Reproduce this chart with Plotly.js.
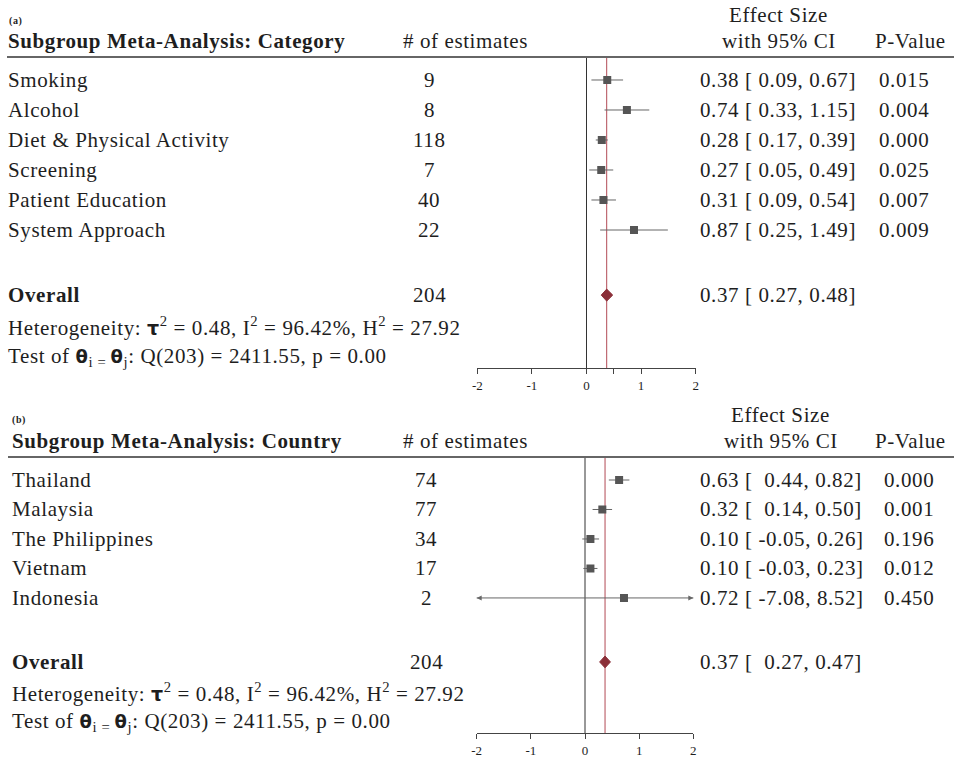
<!DOCTYPE html>
<html>
<head>
<meta charset="utf-8">
<script src="https://cdn.plot.ly/plotly-3.0.1.min.js"></script>
<style>
html,body{margin:0;padding:0;background:#fff;}
#chart{width:954px;height:758px;}
.annotation-text{letter-spacing:0.6px;}
</style>
</head>
<body>
<div id="chart"></div>
<script>
// ---------- Data: panel (a) Category ----------
const catLabels = ["Smoking", "Alcohol", "Diet & Physical Activity", "Screening", "Patient Education", "System Approach"];
const catN = [9, 8, 118, 7, 40, 22];
const catES = [0.38, 0.74, 0.28, 0.27, 0.31, 0.87];
const catLo = [0.09, 0.33, 0.17, 0.05, 0.09, 0.25];
const catHi = [0.67, 1.15, 0.39, 0.49, 0.54, 1.49];
const catP = ["0.015", "0.004", "0.000", "0.025", "0.007", "0.009"];
const catOverallN = 204;
const catOverallES = 0.37;
const catOverallLo = 0.27;
const catOverallHi = 0.48;

// ---------- Data: panel (b) Country ----------
const ctyLabels = ["Thailand", "Malaysia", "The Philippines", "Vietnam", "Indonesia"];
const ctyN = [74, 77, 34, 17, 2];
const ctyES = [0.63, 0.32, 0.10, 0.10, 0.72];
const ctyLo = [0.44, 0.14, -0.05, -0.03, -7.08];
const ctyHi = [0.82, 0.50, 0.26, 0.23, 8.52];
const ctyP = ["0.000", "0.001", "0.196", "0.012", "0.450"];
const ctyOverallN = 204;
const ctyOverallES = 0.37;
const ctyOverallLo = 0.27;
const ctyOverallHi = 0.47;

const hetText = "Heterogeneity: <span style='font-family:DejaVu Sans;font-size:19px'><b>τ</b></span><sup>2</sup> = 0.48, I<sup>2</sup> = 96.42%, H<sup>2</sup> = 27.92";
const testText = "Test of <span style='font-family:DejaVu Sans;font-size:18px'><b>θ</b></span><sub>i = </sub><span style='font-family:DejaVu Sans;font-size:18px'><b>θ</b></span><sub>j</sub>: Q(203) = 2411.55, p = 0.00";

const xTickValsA = [-2, -1, 0, 0.5, 1, 2];
const xTickTextA = ["-2", "-1", "0", " ", "1", "2"];
const xTickValsB = [-2, -1, 0, 1, 2];
const xTickTextB = ["-2", "-1", "0", "1", "2"];

// ---------- Layout constants ----------
const W = 954, H = 758;
const FONT = "Liberation Serif";
const TXT = "#1e1e1e";
const FS = 21;
const XMIN = -2, XMAX = 2;
const px = v => v / W;
const py = v => 1 - v / H;

function fmt(v) { return v.toFixed(2); }
function padTo(s, n) { while (s.length < n) s = "\u00a0" + s; return s; }

function buildPanel(p) {
  const traces = [];
  const ann = [];
  const shapes = [];
  const n = p.labels.length;
  const rows = p.labels.map((_, i) => i);
  const rowOverall = n + 1.17;
  const rowHet = n + 2.2;
  const rowTest = n + 3.22;

  // CI lines + squares
  traces.push({
    type: "scatter", mode: "markers", xaxis: p.xa, yaxis: p.ya,
    x: p.es, y: rows,
    marker: { symbol: "square", size: 8, color: "#555" },
    error_x: {
      type: "data", symmetric: false,
      array: p.es.map((e, i) => p.hi[i] - e),
      arrayminus: p.es.map((e, i) => e - p.lo[i]),
      color: "#666", thickness: 1, width: 0
    },
    hoverinfo: "skip", showlegend: false
  });
  // arrows for CIs beyond the axis range
  const ax = [], ay = [], as = [];
  p.lo.forEach((v, i) => { if (v < XMIN) { ax.push(XMIN); ay.push(i); as.push("arrow-left"); } });
  p.hi.forEach((v, i) => { if (v > XMAX) { ax.push(XMAX); ay.push(i); as.push("arrow-right"); } });
  if (ax.length) {
    traces.push({
      type: "scatter", mode: "markers", xaxis: p.xa, yaxis: p.ya,
      x: ax, y: ay, cliponaxis: false,
      marker: { symbol: as, size: 5, color: "#666" },
      hoverinfo: "skip", showlegend: false
    });
  }
  // overall diamond spanning the CI
  const dh = 0.2;
  traces.push({
    type: "scatter", mode: "lines", xaxis: p.xa, yaxis: p.ya,
    x: [p.oLo, p.oES, p.oHi, p.oES, p.oLo],
    y: [rowOverall, rowOverall - dh, rowOverall, rowOverall + dh, rowOverall],
    fill: "toself", fillcolor: "#8b2f38", line: { color: "#8b2f38", width: 1 },
    hoverinfo: "skip", showlegend: false
  });

  // vertical lines: zero and overall
  shapes.push({ type: "line", xref: p.xa, yref: p.ya + " domain", x0: 0, x1: 0, y0: 0, y1: 1,
    line: { color: "#333", width: 1 }, layer: "below" });
  shapes.push({ type: "line", xref: p.xa, yref: p.ya + " domain", x0: p.oES, x1: p.oES, y0: 0, y1: 1,
    line: { color: "#b24a55", width: 1 }, layer: "below" });
  // header rule
  shapes.push({ type: "line", xref: "paper", yref: "paper", x0: px(p.ruleX), x1: 1, y0: py(p.ruleY), y1: py(p.ruleY),
    line: { color: "#666", width: 2 } });

  const yref = p.ya;
  const A = (text, x, y, xanchor, extra) => Object.assign({
    text: text, x: px(x), y: y, xref: "paper", yref: yref, xanchor: xanchor, yanchor: "middle",
    showarrow: false, font: { family: FONT, size: FS, color: TXT }
  }, extra || {});
  const AP = (text, x, y, xanchor, extra) => Object.assign({
    text: text, x: px(x), y: py(y), xref: "paper", yref: "paper", xanchor: xanchor, yanchor: "middle",
    showarrow: false, font: { family: FONT, size: FS, color: TXT }
  }, extra || {});

  // headers
  ann.push(AP("<b>" + p.tag + "</b>", p.tagX, p.tagY, "left", { font: { family: FONT, size: 10, color: TXT } }));
  ann.push(AP("<b>" + p.title + "</b>", p.labelX, p.headY, "left"));
  ann.push(AP("# of estimates", 465, p.headY, "center"));
  ann.push(AP("Effect Size", p.esHeadX, p.headY - 26, "center"));
  ann.push(AP("with 95% CI", p.esHeadX + 1, p.headY, "center"));
  ann.push(AP("P-Value", 910, p.headY, "center"));

  const loW = Math.max(...p.lo.map(v => fmt(v).length), fmt(p.oLo).length);
  const ciText = (e, l, h) => fmt(e) + " [ " + padTo(fmt(l), loW) + ", " + fmt(h) + "]";

  p.labels.forEach((lab, i) => {
    ann.push(A(lab, p.labelX, i, "left"));
    ann.push(A(String(p.n[i]), p.nX, i, "center"));
    ann.push(A(ciText(p.es[i], p.lo[i], p.hi[i]), 698, i, "left"));
    ann.push(A(p.p[i], p.pX, i, "center"));
  });
  ann.push(A("<b>Overall</b>", p.labelX, rowOverall, "left"));
  ann.push(A(String(p.oN), p.nX, rowOverall, "center"));
  ann.push(A(ciText(p.oES, p.oLo, p.oHi), 698, rowOverall, "left"));
  ann.push(A(hetText, p.labelX, rowHet, "left"));
  ann.push(A(testText, p.labelX, rowTest, "left"));

  return { traces, ann, shapes };
}

const pa = buildPanel({
  xa: "x", ya: "y", labels: catLabels, n: catN, es: catES, lo: catLo, hi: catHi, p: catP,
  oN: catOverallN, oES: catOverallES, oLo: catOverallLo, oHi: catOverallHi,
  tag: "(a)", title: "Subgroup Meta-Analysis: Category",
  tagX: 7, tagY: 21, labelX: 6, headY: 41, ruleX: 7, ruleY: 57, nX: 429, pX: 904, esHeadX: 778
});
const pb = buildPanel({
  xa: "x2", ya: "y2", labels: ctyLabels, n: ctyN, es: ctyES, lo: ctyLo, hi: ctyHi, p: ctyP,
  oN: ctyOverallN, oES: ctyOverallES, oLo: ctyOverallLo, oHi: ctyOverallHi,
  tag: "(b)", title: "Subgroup Meta-Analysis: Country",
  tagX: 10, tagY: 420, labelX: 10, headY: 441, ruleX: 8, ruleY: 457, nX: 426, pX: 909, esHeadX: 780
});

const axisCommon = {
  range: [XMIN, XMAX], showgrid: false, zeroline: false, showline: true, linecolor: "#444", linewidth: 1,
  ticks: "outside", ticklen: 5, tickcolor: "#444", tickwidth: 1,
  tickfont: { family: FONT, size: 13, color: TXT }, fixedrange: true, tickmode: "array"
};

const layout = {
  width: W, height: H, margin: { l: 0, r: 0, t: 0, b: 0 },
  paper_bgcolor: "#fff", plot_bgcolor: "rgba(0,0,0,0)", showlegend: false,
  xaxis: Object.assign({}, axisCommon, { domain: [px(477.3), px(695.7)], anchor: "y", tickvals: xTickValsA, ticktext: xTickTextA }),
  yaxis: { domain: [py(368.3), py(58)], range: [9.61, -0.733], visible: false, showgrid: false, zeroline: false, fixedrange: true, anchor: "x" },
  xaxis2: Object.assign({}, axisCommon, { domain: [px(476.7), px(693.3)], anchor: "y2", tickvals: xTickValsB, ticktext: xTickTextB }),
  yaxis2: { domain: [py(733.3), py(458)], range: [8.59, -0.746], visible: false, showgrid: false, zeroline: false, fixedrange: true, anchor: "x2" },
  annotations: pa.ann.concat(pb.ann),
  shapes: pa.shapes.concat(pb.shapes)
};

Plotly.newPlot("chart", pa.traces.concat(pb.traces), layout, { displayModeBar: false, staticPlot: true });
</script>
</body>
</html>
